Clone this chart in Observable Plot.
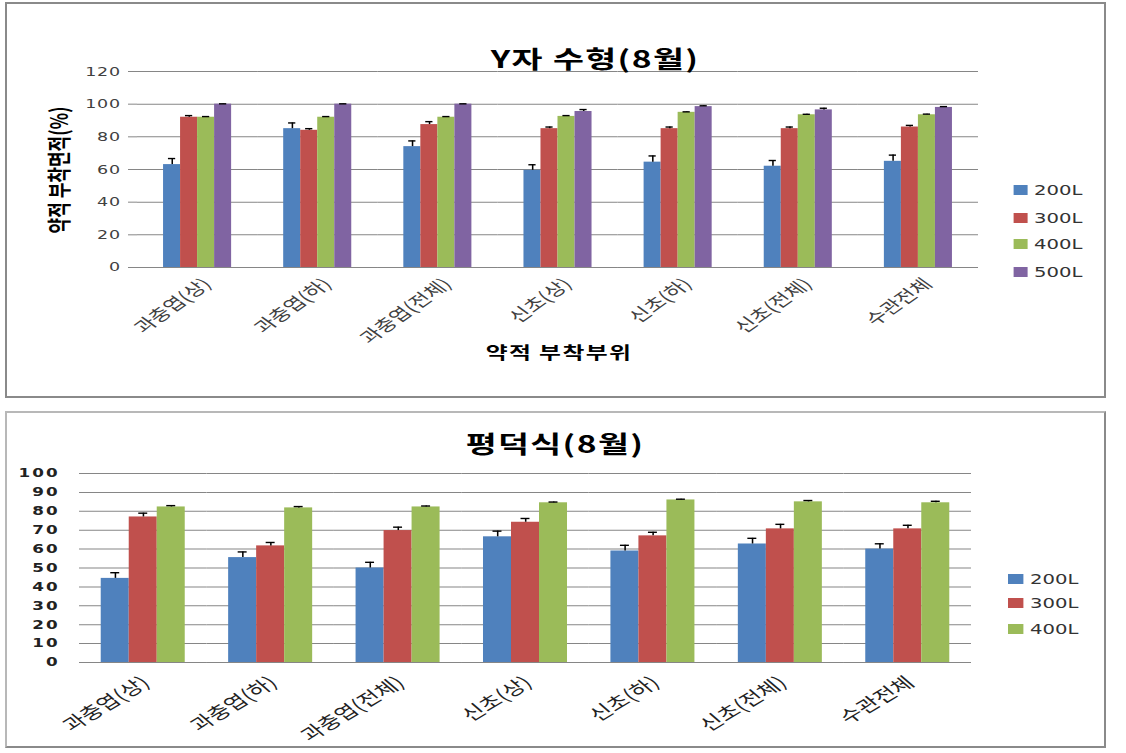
<!DOCTYPE html>
<html>
<head>
<meta charset="utf-8">
<script src="https://cdn.jsdelivr.net/npm/d3@7"></script>
<script src="https://cdn.jsdelivr.net/npm/@observablehq/plot@0.6"></script>
<style>
  html, body { margin: 0; padding: 0; background: #fff; }
  body { width: 1126px; height: 753px; position: relative; overflow: hidden; font-family: "Noto Sans CJK KR", sans-serif; }
  .frame { position: absolute; box-sizing: border-box; border: 2px solid #8a8a8a; }
  .stretch { position: absolute; left: 0; transform-origin: 0 0; }
  .stretch svg { position: absolute; left: 0; top: 0; overflow: visible; }
  .c-top [aria-label="y-axis tick label"] text { letter-spacing: 0.5px; }
  .c-bot [aria-label="y-axis tick label"] text { letter-spacing: 1.5px; }
</style>
</head>
<body>
<script>
// ---------- data ----------
const categories = ["과충엽(상)", "과충엽(하)", "과충엽(전체)", "신초(상)", "신초(하)", "신초(전체)", "수관전체"];

// Y자 수형(8월)
const topSeries = ["200L", "300L", "400L", "500L"];
const topColors = ["#4F81BD", "#C0504D", "#9BBB59", "#8064A2"];
const top200 = [63, 85, 74, 59.5, 64.5, 62, 65];
const top300 = [92, 84, 87.5, 85, 85, 85, 86];
const top400 = [92, 92, 92, 92.5, 95, 93.5, 93.5];
const top500 = [100, 100, 100, 95.5, 98.5, 96.5, 98];
const topErr200 = [3.7, 3.5, 3.5, 3.4, 3.8, 3.5, 3.8];
const topErr300 = [1, 1, 1.8, 1, 1, 1, 1];
const topErr400 = [0.4, 0.4, 0.4, 0.5, 0.3, 0.3, 0.4];
const topErr500 = [0.2, 0.2, 0.2, 1.2, 0.5, 1, 0.5];
const topYTicks = [0, 20, 40, 60, 80, 100, 120];

// 평덕식(8월)
const botSeries = ["200L", "300L", "400L"];
const botColors = ["#4F81BD", "#C0504D", "#9BBB59"];
const bot200 = [44.5, 55.5, 50, 66.5, 59, 62.7, 60];
const bot300 = [77, 61.7, 69.8, 74.2, 67, 70.7, 70.7];
const bot400 = [82.3, 81.8, 82.3, 84.5, 86, 85, 84.5];
const botErr200 = [3, 3, 3, 3, 3, 3, 2.8];
const botErr300 = [2, 1.8, 1.8, 2, 1.9, 2.4, 1.9];
const botErr400 = [0.7, 0.7, 0.5, 0.4, 0.4, 0.7, 0.8];
const botYTicks = [0, 10, 20, 30, 40, 50, 60, 70, 80, 90, 100];

// ---------- helpers ----------
const S = 1.4;            // horizontal stretch of the original picture
const PAGE_W = 1126;

function buildRows(series, values, errs) {
  return series.flatMap((s, i) => categories.map((c, j) => ({cat: c, series: s, value: values[i][j], err: errs[i][j]})));
}

function place(parent, text, x, y, css, extra = "") {
  const d = document.createElement("div");
  d.textContent = text;
  d.style.cssText = `position:absolute;left:${x}px;top:${y}px;white-space:nowrap;line-height:1;transform:translate(-50%,-50%) ${extra};` + css;
  parent.appendChild(d);
  return d;
}

function frame(left, top, width, height, colors) {
  const f = document.createElement("div");
  f.className = "frame";
  f.style.cssText = `left:${left}px;top:${top}px;width:${width}px;height:${height}px;` + (colors ? `border-color:${colors};` : "");
  document.body.appendChild(f);
}

function makeChart(cfg) {
  const box = document.createElement("div");
  box.className = "stretch " + cfg.cls;
  box.style.cssText = `top:${cfg.top}px;width:${PAGE_W / S}px;height:${cfg.height}px;transform:scaleX(${S});`;
  document.body.appendChild(box);

  const rows = cfg.rows;
  const svg = Plot.plot({
    width: PAGE_W / S,
    height: cfg.height,
    marginLeft: cfg.plotLeft / S,
    marginRight: (PAGE_W - cfg.plotRight) / S,
    marginTop: cfg.plotTop,
    marginBottom: cfg.height - cfg.plotBottom,
    style: {background: "transparent", color: cfg.textColor, fontSize: "13px", fontFamily: "Noto Sans CJK KR"},
    fx: {domain: categories, paddingInner: 0, paddingOuter: 0, round: false, label: null},
    x: {domain: cfg.series, paddingInner: 0, paddingOuter: cfg.po, round: false, axis: null},
    y: {domain: [cfg.yTicks[0], cfg.yTicks[cfg.yTicks.length - 1]], label: null},
    color: {domain: cfg.series, range: cfg.colors},
    marks: [
      Plot.gridY(cfg.yTicks, {stroke: "#868686", strokeOpacity: 1}),
      Plot.barY(rows, {fx: "cat", x: "series", y: "value", fill: "series"}),
      Plot.ruleX(rows, {fx: "cat", x: "series", y1: "value", y2: d => d.value + d.err, stroke: "#000", strokeWidth: 1.1}),
      Plot.tickY(rows, {fx: "cat", x: "series", y: d => d.value + d.err, stroke: "#000", strokeWidth: 1.4, insetLeft: cfg.capInset, insetRight: cfg.capInset}),
      Plot.ruleY([cfg.yTicks[0]], {stroke: "#868686"}),
      Plot.axisY(cfg.yTicks, {
        tickSize: cfg.yTickSize, tickPadding: cfg.yTickPadding, stroke: "#868686", line: true,
        fontFamily: "DejaVu Sans", fontSize: cfg.yFontSize, fontWeight: cfg.yFontWeight, fill: cfg.yTickColor, label: null
      }),
      Plot.axisFx({
        anchor: "bottom", tickSize: 0, tickRotate: cfg.fxRotate, tickPadding: cfg.fxPadding, dx: cfg.fxDx,
        fontFamily: "Noto Sans CJK KR", fontSize: cfg.fxFontSize, fill: cfg.textColor, label: null
      })
    ]
  });
  box.appendChild(svg);

  // title
  place(box, cfg.title, cfg.titleX / S, cfg.titleY, `font-weight:700;font-size:${cfg.titleSize}px;color:#000;letter-spacing:1px;`);
  if (cfg.yTitle) place(box, cfg.yTitle, cfg.yTitleX / S, cfg.yTitleY, "font-weight:700;font-size:17px;color:#000;", "rotate(-90deg)");
  if (cfg.xTitle) place(box, cfg.xTitle, cfg.xTitleX / S, cfg.xTitleY, "font-weight:700;font-size:17px;color:#000;letter-spacing:1px;");

  // legend
  cfg.series.forEach((s, i) => {
    const y = cfg.legendRows[i];
    const sw = document.createElement("div");
    sw.style.cssText = `position:absolute;left:${cfg.swatchLeft / S}px;top:${y - 5}px;width:${15 / S}px;height:10px;background:${cfg.colors[i]};`;
    box.appendChild(sw);
    const t = document.createElement("div");
    t.textContent = s;
    t.style.cssText = `position:absolute;left:${cfg.legendTextLeft / S}px;top:${y}px;transform:translateY(-50%);font-family:'DejaVu Sans';font-size:14px;line-height:1;color:#333;white-space:nowrap;`;
    box.appendChild(t);
  });
}

// ---------- frames ----------
frame(5, 2, 1101, 396);
frame(5, 411, 1101, 337, "#b8b8b8 #8a8a8a #8a8a8a #b8b8b8");

// ---------- top chart ----------
makeChart({
  cls: "c-top", top: 0, height: 400,
  plotLeft: 137, plotRight: 978, plotTop: 71, plotBottom: 267,
  series: topSeries, colors: topColors,
  rows: buildRows(topSeries, [top200, top300, top400, top500], [topErr200, topErr300, topErr400, topErr500]),
  yTicks: topYTicks, po: 1.53, capInset: 3.5,
  yTickSize: 9 / S, yTickPadding: 8 / S, yFontSize: 12.5, yFontWeight: 400, yTickColor: "#404040",
  fxRotate: -45, fxPadding: 14, fxDx: 7, fxFontSize: 16, textColor: "#404040",
  title: "Y자 수형(8월)", titleX: 595, titleY: 58, titleSize: 24,
  yTitle: "약적 부착면적(%)", yTitleX: 57, yTitleY: 170,
  xTitle: "약적 부착부위", xTitleX: 559, xTitleY: 351,
  swatchLeft: 1013, legendTextLeft: 1034, legendRows: [190, 218, 244, 272]
});

// ---------- bottom chart ----------
makeChart({
  cls: "c-bot", top: 400, height: 353,
  plotLeft: 79, plotRight: 971, plotTop: 73, plotBottom: 262,
  series: botSeries, colors: botColors,
  rows: buildRows(botSeries, [bot200, bot300, bot400], [botErr200, botErr300, botErr400]),
  yTicks: botYTicks, po: 0.775, capInset: 6.8,
  yTickSize: 0, yTickPadding: 20 / S, yFontSize: 12, yFontWeight: 700, yTickColor: "#222",
  fxRotate: -40, fxPadding: 18, fxDx: 2, fxFontSize: 17, textColor: "#222",
  title: "평덕식(8월)", titleX: 555, titleY: 43, titleSize: 24,
  swatchLeft: 1008, legendTextLeft: 1030, legendRows: [179, 203, 229]
});
</script>
</body>
</html>
